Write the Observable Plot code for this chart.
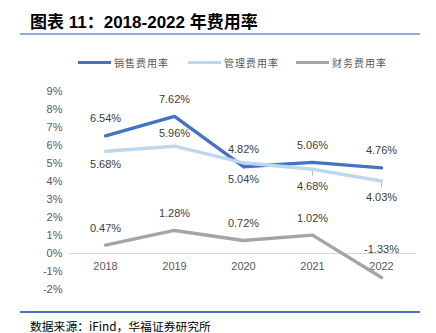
<!DOCTYPE html>
<html><head><meta charset="utf-8">
<script src="https://cdn.jsdelivr.net/npm/d3@7"></script>
<script src="https://cdn.jsdelivr.net/npm/@observablehq/plot@0.6"></script>
<style>
body{margin:0;background:#fff;}
#wrap{position:relative;width:436px;height:333px;overflow:hidden;font-family:"Liberation Sans","Noto Sans CJK SC",sans-serif;}
#title{position:absolute;left:30px;top:8px;font-size:17px;font-weight:bold;color:#000;white-space:nowrap;}
.hr{position:absolute;left:20px;width:400px;height:2px;}
#legend{position:absolute;top:55px;left:0;width:436px;height:14px;font-size:10px;color:#595959;font-family:"Noto Sans CJK SC",sans-serif;}
.sw{position:absolute;top:6px;width:33px;height:3px;}
.lt{position:absolute;top:0;white-space:nowrap;letter-spacing:1px;}
#chart{position:absolute;left:0;top:70px;}
#caption{position:absolute;left:30px;top:317px;font-size:11.8px;color:#000;white-space:nowrap;font-family:"Noto Sans CJK SC",sans-serif;}
</style></head>
<body><div id="wrap">
<div id="title">图表 11：2018-2022 年费用率</div>
<div class="hr" style="top:33px;background:#8EA9DB;"></div>
<div id="legend"></div>
<div id="chart"></div>
<div class="hr" style="top:311px;background:#4472C4;"></div>
<div id="caption">数据来源：iFind，华福证券研究所</div>
</div>
<script>
const years = ["2018","2019","2020","2021","2022"];
const seriesNames = ["销售费用率","管理费用率","财务费用率"];
const sales = [6.54, 7.62, 4.82, 5.06, 4.76];
const admin = [5.68, 5.96, 5.04, 4.68, 4.03];
const finance = [0.47, 1.28, 0.72, 1.02, -1.33];
const yTicks = [-2,-1,0,1,2,3,4,5,6,7,8,9];
const colors = ["#4472C4","#BDD7EE","#A5A5A5"];

const all = [sales, admin, finance];
const rows = [];
all.forEach((arr, s) => arr.forEach((v, i) => rows.push({series: seriesNames[s], year: years[i], value: v, s, i})));

function labelDy(d){
  if (d.s === 0) return -17;
  if (d.s === 1) return d.i === 1 ? -13 : (d.i === 0 ? 13 : 17);
  return d.i === 4 ? -28 : -17;
}
const groups = d3.group(rows, labelDy);
const leaders = rows.filter(d => d.s === 1 && d.i >= 2);

// legend
const legend = document.getElementById("legend");
const swX = [78, 188, 296];
seriesNames.forEach((n, k) => {
  const sw = document.createElement("div"); sw.className = "sw";
  sw.style.left = swX[k] + "px"; sw.style.background = colors[k];
  legend.appendChild(sw);
  const t = document.createElement("div"); t.className = "lt";
  t.style.left = (swX[k] + 36) + "px"; t.textContent = n;
  legend.appendChild(t);
});

const chart = Plot.plot({
  width: 436, height: 230,
  marginLeft: 69, marginRight: 20, marginTop: 21, marginBottom: 11,
  style: {fontFamily: "Liberation Sans, Arial, sans-serif", fontSize: "11px", color: "#595959", background: "transparent"},
  x: {type: "point", domain: years, padding: 0.5, axis: null},
  y: {type: "linear", domain: [-2, 9], ticks: yTicks, tickFormat: d => d + "%", label: null},
  color: {domain: seriesNames, range: colors},
  marks: [
    Plot.axisY({ticks: yTicks, tickSize: 0, tickPadding: 7, tickFormat: d => d + "%", label: null, fontSize: 11, fill: "#595959"}),
    Plot.ruleY([0], {stroke: "#D9D9D9", strokeWidth: 1}),
    Plot.text(years, {x: d => d, y: 0, dy: 13, text: d => d, fill: "#595959", fontSize: 11}),
    Plot.ruleX(leaders, {x: "year", y1: d => d.value - 0.1, y2: d => d.value - 0.38, stroke: "#A6A6A6", strokeWidth: 0.8}),
    Plot.line(rows, {x: "year", y: "value", z: "series", stroke: "series", strokeWidth: 3.4, curve: "linear"}),
    ...Array.from(groups, ([dy, g]) => Plot.text(g, {
      x: "year", y: "value", text: d => d.value.toFixed(2) + "%",
      fill: "#404040", fontSize: 11, dy
    }))
  ]
});
document.getElementById("chart").appendChild(chart);
</script>
</body></html>
